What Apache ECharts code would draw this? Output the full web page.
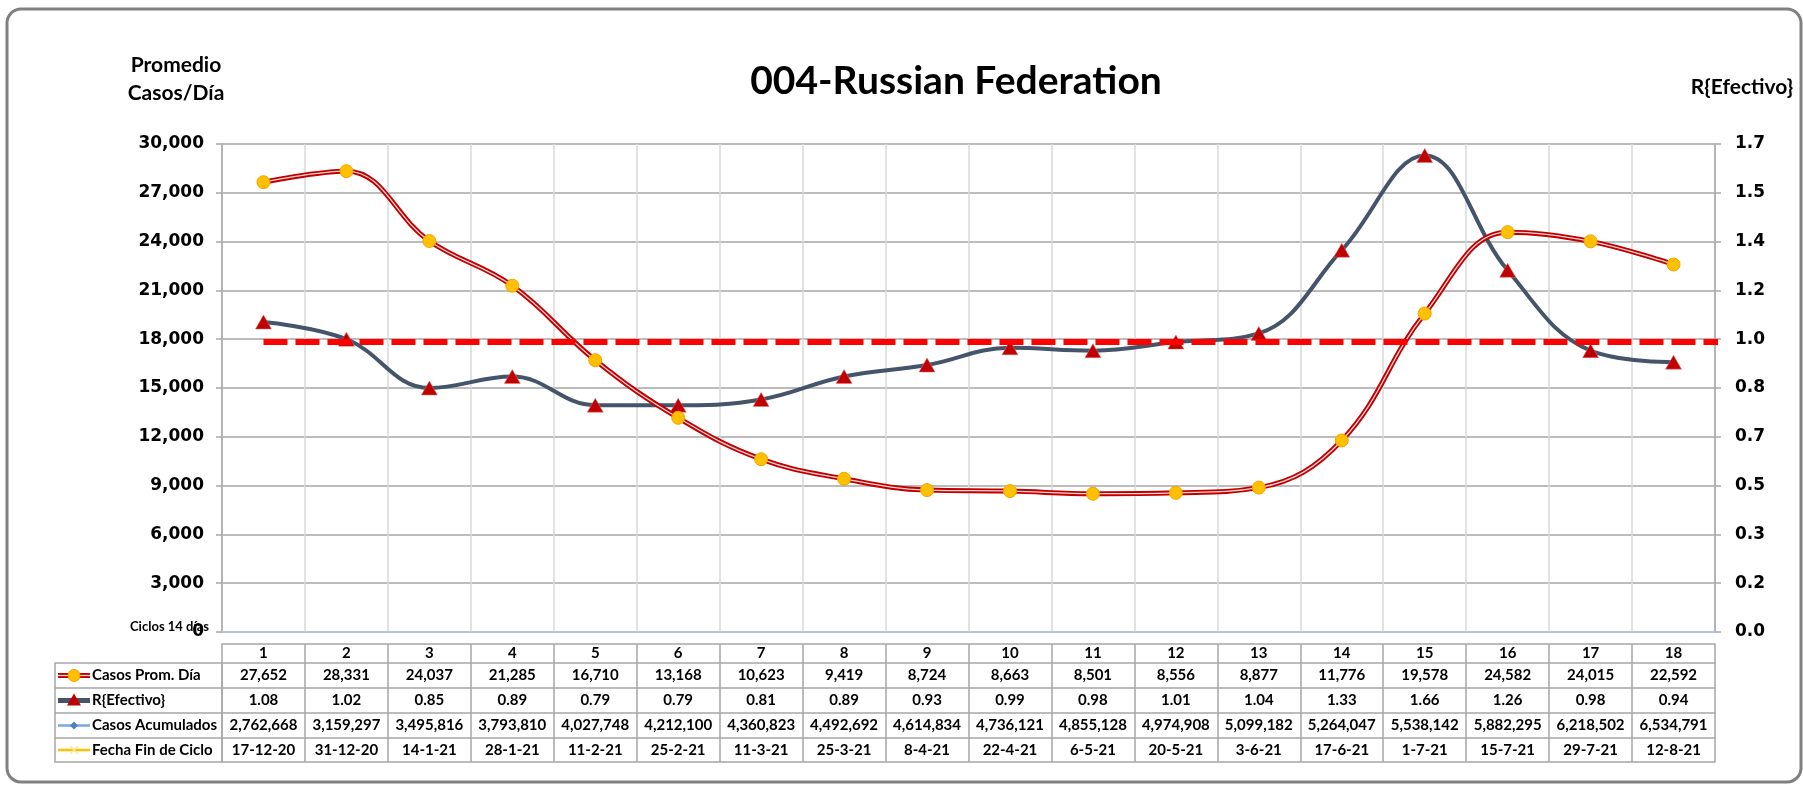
<!DOCTYPE html>
<html>
<head>
<meta charset="utf-8">
<title>004-Russian Federation</title>
<script src="https://cdn.jsdelivr.net/npm/echarts@6/dist/echarts.min.js"></script>
<style>
  html, body { margin: 0; padding: 0; background: #fff; }
  #chart { width: 1803px; height: 788px; }
</style>
</head>
<body>
<div id="chart"></div>
<script>
// values
const ciclos = ['1', '2', '3', '4', '5', '6', '7', '8', '9', '10', '11', '12', '13', '14', '15', '16', '17', '18'];
const casosProm = [27652, 28331, 24037, 21285, 16710, 13168, 10623, 9419, 8724, 8663, 8501, 8556, 8877, 11776, 19578, 24582, 24015, 22592];
const rEfectivo = [1.08, 1.02, 0.85, 0.89, 0.79, 0.79, 0.81, 0.89, 0.93, 0.99, 0.98, 1.01, 1.04, 1.33, 1.66, 1.26, 0.98, 0.94];
const casosAcum = [2762668, 3159297, 3495816, 3793810, 4027748, 4212100, 4360823, 4492692, 4614834, 4736121, 4855128, 4974908, 5099182, 5264047, 5538142, 5882295, 6218502, 6534791];
const fechaFin = ['17-12-20', '31-12-20', '14-1-21', '28-1-21', '11-2-21', '25-2-21', '11-3-21', '25-3-21', '8-4-21', '22-4-21', '6-5-21', '20-5-21', '3-6-21', '17-6-21', '1-7-21', '15-7-21', '29-7-21', '12-8-21'];

// R ~ 1 reference line, from the centre of cycle 1 to just past the right axis
const limiteX = [0.5, 18.25];
const limiteR = [1.01, 1.01];

// axis scales
const casosMax = 30000, casosStep = 3000;
const rMax = 1.7, rStep = 0.17;

const fmt = n => n.toLocaleString('en-US');
const gridLine = '#a6a6a6';
const tableFont = { fontFamily: 'Lato', fontWeight: 'bold', fontSize: 15, color: '#000' };
const axisFont = { fontFamily: 'DejaVu Sans', fontWeight: 'bold', fontSize: 17, color: '#000' };

const chart = echarts.init(document.getElementById('chart'), null, { renderer: 'canvas' });

// one category axis per table row; its ticks draw the cell borders
function tableAxis(offset, height, labels) {
  return {
    type: 'category', position: 'bottom', offset: offset, data: ciclos,
    axisLine: { show: true, lineStyle: { color: gridLine, width: 1.5 } },
    axisTick: { show: true, length: height, interval: 0, lineStyle: { color: gridLine, width: 1.5 } },
    splitLine: { show: false },
    axisLabel: Object.assign({
      show: labels != null, interval: 0, margin: height / 2, verticalAlign: 'middle',
      hideOverlap: false,
      formatter: (v, i) => labels ? labels[i] : ''
    }, tableFont)
  };
}

const rowY = [663, 688, 713, 738, 762];
const legendGraphics = [];
// legend column borders
legendGraphics.push({
  type: 'rect', shape: { x: 55, y: rowY[0], width: 167, height: rowY[4] - rowY[0] },
  style: { fill: 'none', stroke: gridLine, lineWidth: 1.5 }
});
[1, 2, 3].forEach(k => legendGraphics.push({
  type: 'line', shape: { x1: 55, y1: rowY[k], x2: 222, y2: rowY[k] },
  style: { stroke: gridLine, lineWidth: 1.5 }
}));
const rowNames = ['Casos Prom. Día', 'R{Efectivo}', 'Casos Acumulados', 'Fecha Fin de Ciclo'];
rowNames.forEach((name, k) => {
  const cy = (rowY[k] + rowY[k + 1]) / 2;
  legendGraphics.push({
    type: 'text', x: 92, y: cy,
    style: { text: name, verticalAlign: 'middle', align: 'left', fill: '#000', fontFamily: 'Lato', fontWeight: 'bold', fontSize: 15 }
  });
  if (k === 0) {
    legendGraphics.push({ type: 'line', shape: { x1: 58, y1: cy, x2: 90, y2: cy }, style: { stroke: '#C00000', lineWidth: 5 } });
    legendGraphics.push({ type: 'line', shape: { x1: 58, y1: cy, x2: 90, y2: cy }, style: { stroke: '#f9d2d2', lineWidth: 1.3 } });
    legendGraphics.push({ type: 'circle', shape: { cx: 74, cy: cy, r: 6 }, style: { fill: '#FFC000', stroke: '#F4A300', lineWidth: 1 } });
  } else if (k === 1) {
    legendGraphics.push({ type: 'line', shape: { x1: 58, y1: cy, x2: 90, y2: cy }, style: { stroke: '#44546A', lineWidth: 5 } });
    legendGraphics.push({ type: 'polygon', shape: { points: [[74, cy - 7], [81, cy + 5], [67, cy + 5]] }, style: { fill: '#C00000' } });
  } else if (k === 2) {
    legendGraphics.push({ type: 'line', shape: { x1: 58, y1: cy, x2: 90, y2: cy }, style: { stroke: '#7aa7dc', lineWidth: 2.5 } });
    legendGraphics.push({ type: 'polygon', shape: { points: [[74, cy - 4], [78, cy], [74, cy + 4], [70, cy]] }, style: { fill: '#4F81BD' } });
  } else {
    legendGraphics.push({ type: 'line', shape: { x1: 58, y1: cy, x2: 90, y2: cy }, style: { stroke: '#FFC000', lineWidth: 2.5 } });
    legendGraphics.push({ type: 'line', shape: { x1: 70, y1: cy - 4, x2: 78, y2: cy + 4 }, style: { stroke: '#FFE699', lineWidth: 1.2 } });
    legendGraphics.push({ type: 'line', shape: { x1: 70, y1: cy + 4, x2: 78, y2: cy - 4 }, style: { stroke: '#FFE699', lineWidth: 1.2 } });
  }
});

const option = {
  animation: false,
  backgroundColor: '#fff',
  grid: { left: 222, right: 88, top: 144, bottom: 156, outerBoundsMode: 'none' },
  xAxis: [
    {
      type: 'category', position: 'bottom', data: ciclos, boundaryGap: true,
      axisLine: { show: true, lineStyle: { color: '#8eb4e3', width: 1.5 } },
      axisTick: { show: false }, axisLabel: { show: false },
      splitLine: { show: true, interval: 0, lineStyle: { color: '#d9d9d9', width: 1.5 } }
    },
    {
      type: 'category', position: 'top', data: ciclos,
      axisLine: { show: true, lineStyle: { color: '#b8cce4', width: 1.5 } },
      axisTick: { show: false }, axisLabel: { show: false }, splitLine: { show: false }
    },
    { type: 'value', min: 0, max: ciclos.length, show: false },
    tableAxis(12, 19, ciclos),
    tableAxis(31, 25, casosProm.map(fmt)),
    tableAxis(56, 25, rEfectivo.map(v => v.toFixed(2))),
    tableAxis(81, 25, casosAcum.map(fmt)),
    tableAxis(106, 24, fechaFin),
    Object.assign(tableAxis(130, 0, null), { axisTick: { show: false } })
  ],
  yAxis: [
    {
      type: 'value', position: 'left', min: 0, max: casosMax, interval: casosStep,
      axisLine: { show: true, lineStyle: { color: gridLine, width: 1.5 } },
      axisTick: { show: true, length: 6, lineStyle: { color: gridLine, width: 1.5 } },
      splitLine: { show: true, lineStyle: { color: gridLine, width: 1.5 } },
      axisLabel: Object.assign({ margin: 18, formatter: v => fmt(v) }, axisFont)
    },
    {
      type: 'value', position: 'right', min: 0, max: rMax, interval: rStep,
      axisLine: { show: true, lineStyle: { color: gridLine, width: 1.5 } },
      axisTick: { show: true, length: 6, lineStyle: { color: gridLine, width: 1.5 } },
      splitLine: { show: false },
      axisLabel: Object.assign({ margin: 20, formatter: v => v.toFixed(1) }, axisFont)
    }
  ],
  graphic: [
    {
      type: 'rect', silent: true, z: -10,
      shape: { x: 7, y: 9, width: 1794, height: 773, r: 14 },
      style: { fill: 'none', stroke: '#808080', lineWidth: 3 }
    },
    {
      type: 'text', x: 956, y: 81,
      style: { text: '004-Russian Federation', align: 'center', verticalAlign: 'middle', fontFamily: 'Lato', fontWeight: 'bold', fontSize: 39, fill: '#000' }
    },
    {
      type: 'text', x: 176, y: 79,
      style: { text: 'Promedio\nCasos/Día', align: 'center', verticalAlign: 'middle', lineHeight: 28, fontFamily: 'Lato', fontWeight: 'bold', fontSize: 21, fill: '#000' }
    },
    {
      type: 'text', x: 1742, y: 87,
      style: { text: 'R{Efectivo}', align: 'center', verticalAlign: 'middle', fontFamily: 'Lato', fontWeight: 'bold', fontSize: 21, fill: '#000' }
    },
    {
      type: 'text', x: 209, y: 627,
      style: { text: 'Ciclos 14 días', align: 'right', verticalAlign: 'middle', fontFamily: 'Lato', fontWeight: 'bold', fontSize: 13, fill: '#000' }
    }
  ].concat(legendGraphics),
  series: [
    {
      name: 'R{Efectivo}', type: 'line', xAxisIndex: 0, yAxisIndex: 1, data: rEfectivo,
      smooth: 0.4, z: 2,
      lineStyle: { color: '#44546A', width: 4 },
      symbol: 'triangle', symbolSize: [16, 14],
      itemStyle: { color: '#C00000', borderColor: '#e57373', borderWidth: 0.5 }
    },
    {
      name: 'Casos Prom. Día', type: 'line', xAxisIndex: 0, yAxisIndex: 0, data: casosProm,
      smooth: 0.4, z: 3, silent: true, showSymbol: false,
      lineStyle: { color: '#C00000', width: 5 }
    },
    {
      name: 'Casos Prom. Día', type: 'line', xAxisIndex: 0, yAxisIndex: 0, data: casosProm,
      smooth: 0.4, z: 4,
      lineStyle: { color: '#f9d2d2', width: 1.3 },
      symbol: 'circle', symbolSize: 13,
      itemStyle: { color: '#FFC000', borderColor: '#F4A300', borderWidth: 1 }
    },
    {
      name: 'R = 1', type: 'line', xAxisIndex: 2, yAxisIndex: 1, z: 5,
      data: limiteX.map((x, i) => [x, limiteR[i]]),
      symbol: 'none', clip: false,
      lineStyle: { color: '#FF0000', width: 6, type: [24, 8] }
    }
  ]
};

chart.setOption(option);
</script>
</body>
</html>
